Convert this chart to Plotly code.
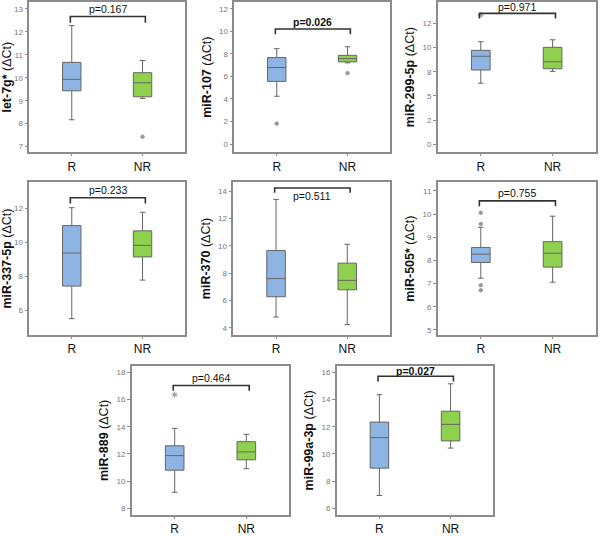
import plotly.graph_objects as go

genes = ["let-7g*", "miR-107", "miR-299-5p", "miR-337-5p", "miR-370", "miR-505*", "miR-889", "miR-99a-3p"]
groups = ["R", "NR"]

# R group box statistics
r_lower = [8.17, 4.24, 6.32, 5.53, 4.80, 7.23, 9.19, 6.95]
r_q1 = [9.43, 5.56, 7.68, 7.44, 6.28, 7.91, 10.81, 8.96]
r_median = [9.93, 6.79, 9.10, 9.38, 7.61, 8.27, 11.88, 11.20]
r_q3 = [10.67, 7.67, 9.71, 10.99, 9.66, 8.56, 12.60, 12.34]
r_upper = [12.27, 8.46, 10.60, 12.04, 13.40, 9.43, 13.88, 14.35]
r_outliers = [[], [1.82], [13.35], [], [], [10.06, 9.57, 6.93, 6.71], [16.35], []]

# NR group box statistics
nr_lower = [9.10, 7.20, 7.54, 7.79, 4.24, 7.06, 10.92, 10.43]
nr_q1 = [9.17, 7.29, 7.81, 9.15, 6.79, 7.71, 11.57, 10.96]
nr_median = [9.78, 7.58, 8.53, 9.83, 7.48, 8.31, 12.15, 12.17]
nr_q3 = [10.22, 7.87, 10.02, 10.68, 8.74, 8.81, 12.90, 13.14]
nr_upper = [10.75, 8.63, 10.80, 11.77, 10.12, 9.91, 13.44, 15.15]
nr_outliers = [[7.43], [6.29], [], [], [], [], [], []]

p_labels = ["p=0.167", "p=0.026", "p=0.971", "p=0.233", "p=0.511", "p=0.755", "p=0.464", "p=0.027"]
p_significant = [False, True, False, False, False, False, False, True]
bracket_top = [12.67, 10.21, 13.52, 12.62, 14.24, 10.57, 17.03, 15.71]
bracket_end = [12.40, 9.75, 13.00, 12.29, 13.88, 10.34, 16.64, 15.32]
p_text_y = [12.98, 10.80, 14.20, 13.10, 13.62, 10.92, 17.60, 16.10]

y_ranges = [[6.75, 13.3], [-0.73, 12.6], [-0.82, 14.7], [4.56, 13.55],
            [3.47, 14.68], [4.77, 11.39], [7.51, 18.49], [5.51, 16.49]]
y_tickvals = [[7, 8, 9, 10, 11, 12, 13], [0, 2, 4, 6, 8, 10, 12],
              [0, 2.5, 5, 7.5, 10, 12.5], [6, 8, 10, 12],
              [4, 6, 8, 10, 12, 14], [5, 6, 7, 8, 9, 10, 11],
              [8, 10, 12, 14, 16, 18], [6, 8, 10, 12, 14, 16]]
y_ticktext = [[str(v) for v in y_tickvals[0]], [str(v) for v in y_tickvals[1]],
              ["0", "2", "5", "8", "10", "12"], [str(v) for v in y_tickvals[3]],
              [str(v) for v in y_tickvals[4]], [str(v) for v in y_tickvals[5]],
              [str(v) for v in y_tickvals[6]], [str(v) for v in y_tickvals[7]]]

W, H = 600, 536
# panel frames in pixels (left, right, top, bottom)
frames = [(29.3, 185, 2, 153.5), (234.3, 390, 2, 153.5), (437.7, 595.7, 2, 153.5),
          (29.3, 185, 183.3, 337.7), (233.3, 390, 183.3, 337.7), (437.7, 595.7, 183.3, 337.7),
          (131.7, 289.3, 368.3, 519), (336.7, 493.3, 368.3, 519)]

BLUE = "#8db4e2"
GREEN = "#8fd14f"
LINE = "#666666"
FONT = "Arial, Liberation Sans, sans-serif"

fig = go.Figure()
layout = dict(width=W, height=H, margin=dict(l=0, r=0, t=0, b=0),
              paper_bgcolor="white", plot_bgcolor="white", showlegend=False,
              font=dict(family=FONT))
annotations = []

for i, g in enumerate(genes):
    n = i + 1
    xa = "x" if n == 1 else f"x{n}"
    ya = "y" if n == 1 else f"y{n}"
    stats = [
        (0, r_lower[i], r_q1[i], r_median[i], r_q3[i], r_upper[i], BLUE, r_outliers[i]),
        (1, nr_lower[i], nr_q1[i], nr_median[i], nr_q3[i], nr_upper[i], GREEN, nr_outliers[i]),
    ]
    for (xpos, lo, q1, med, q3, up, col, outs) in stats:
        fig.add_trace(go.Box(x=[xpos], lowerfence=[lo], q1=[q1], median=[med], q3=[q3],
                             upperfence=[up], fillcolor=col, line=dict(color=LINE, width=1),
                             width=0.26, whiskerwidth=0.3, boxpoints=False,
                             xaxis=xa, yaxis=ya, hoverinfo="skip"))
        if outs:
            extreme = (g in ("miR-299-5p", "miR-889"))
            fig.add_trace(go.Scatter(x=[xpos] * len(outs), y=outs, mode="markers",
                                     marker=dict(symbol="asterisk-open" if extreme else "circle",
                                                 size=3.5 if not extreme else 5,
                                                 color="#999999",
                                                 line=dict(color="#999999", width=1)),
                                     xaxis=xa, yaxis=ya, hoverinfo="skip"))
    # significance bracket
    fig.add_trace(go.Scatter(x=[-0.02, -0.02, 1.04, 1.04],
                             y=[bracket_end[i], bracket_top[i], bracket_top[i], bracket_end[i]],
                             mode="lines", line=dict(color="#333333", width=1.6),
                             xaxis=xa, yaxis=ya, hoverinfo="skip"))
    txt = f"<b>{p_labels[i]}</b>" if p_significant[i] else p_labels[i]
    annotations.append(dict(x=0.51, y=p_text_y[i], xref=xa, yref=ya, text=txt,
                            showarrow=False, font=dict(size=10.5, color="#111111", family=FONT),
                            xanchor="center", yanchor="middle"))

    l, r, t, b = frames[i]
    xdom = [l / W, r / W]
    ydom = [1 - b / H, 1 - t / H]
    xkey = "xaxis" if n == 1 else f"xaxis{n}"
    ykey = "yaxis" if n == 1 else f"yaxis{n}"
    layout[xkey] = dict(domain=xdom, range=[-0.6, 1.6], tickvals=[0, 1], ticktext=groups,
                        showline=True, mirror=True, linecolor="#8c8c8c", linewidth=1.5,
                        ticks="outside", ticklen=2, tickcolor="#8c8c8c",
                        tickfont=dict(size=12, color="#111111", family=FONT),
                        showgrid=False, zeroline=False, anchor=ya, fixedrange=True)
    layout[ykey] = dict(domain=ydom, range=y_ranges[i], tickvals=y_tickvals[i], ticktext=y_ticktext[i],
                        showline=True, mirror=True, linecolor="#8c8c8c", linewidth=1.5,
                        ticks="outside", ticklen=3, tickcolor="#8c8c8c",
                        tickfont=dict(size=8, color="#777777", family=FONT),
                        showgrid=False, zeroline=False, anchor=xa,
                        title=dict(text=f"<b>{g}</b> (ΔCt)", font=dict(size=12.5, color="#111111", family=FONT),
                                   standoff=5))

layout["annotations"] = annotations
fig.update_layout(**layout)
fig.write_html("out.html", config={"displayModeBar": False},
               post_script="document.body.style.margin='0';document.body.style.overflow='hidden';")
